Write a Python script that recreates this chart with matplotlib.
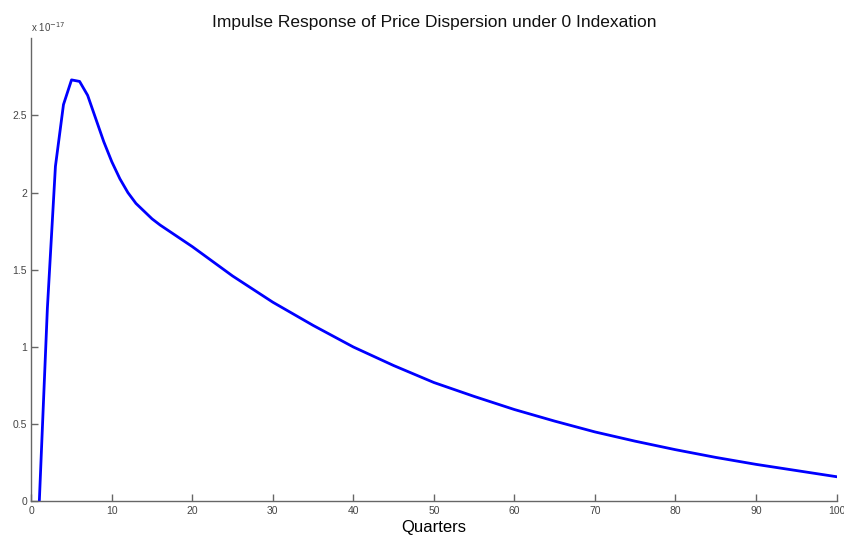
import matplotlib
matplotlib.use("Agg")
import matplotlib.pyplot as plt
from matplotlib.ticker import FuncFormatter

plt.rcParams["font.family"] = ["Liberation Sans", "DejaVu Sans"]

# quarters after the shock and response (in units of 1e-17)
quarters = [1, 2, 3, 4, 5, 6, 7, 8, 9, 10, 11, 12, 13, 14, 15, 16, 17, 18, 19, 20,
            25, 30, 35, 40, 45, 50, 55, 60, 65, 70, 75, 80, 85, 90, 95, 100]
response_e17 = [0.0, 1.25, 2.17, 2.57, 2.73, 2.72, 2.63, 2.48, 2.33, 2.20,
                2.09, 2.00, 1.93, 1.88, 1.83, 1.79, 1.755, 1.72, 1.685, 1.65,
                1.46, 1.29, 1.14, 1.00, 0.88, 0.77, 0.68, 0.595, 0.52, 0.45,
                0.39, 0.335, 0.285, 0.24, 0.20, 0.16]
scale = 1e-17
x_ticks = [0, 10, 20, 30, 40, 50, 60, 70, 80, 90, 100]
y_ticks = [0, 0.5, 1, 1.5, 2, 2.5]

fig = plt.figure(figsize=(8.45, 5.38), dpi=100)
ax = fig.add_axes([0.037, 0.068, 0.953, 0.861])

ax.plot(quarters, [v * scale for v in response_e17], color="#0000ff", lw=2)

ax.set_xlim(0, 100)
ax.set_ylim(0, 3.0 * scale)
ax.set_xticks(x_ticks)
ax.set_yticks([t * scale for t in y_ticks])
ax.yaxis.set_major_formatter(FuncFormatter(lambda v, p: f"{v / scale:g}"))

for s in ("top", "right"):
    ax.spines[s].set_visible(False)
for s in ("left", "bottom"):
    ax.spines[s].set_color("#666666")
    ax.spines[s].set_linewidth(1.0)
ax.tick_params(direction="in", length=5, width=1, color="#666666",
               labelsize=7.5, labelcolor="#444444", pad=3)

ax.text(0.0, 1.01, r"x 10$^{-17}$", transform=ax.transAxes, fontsize=7,
        color="#444444", ha="left", va="bottom")
ax.set_title("Impulse Response of Price Dispersion under 0 Indexation",
             fontsize=12.5, pad=8, color="#111111")
ax.set_xlabel("Quarters", fontsize=12, labelpad=3)

fig.savefig("out.png", dpi=100)
